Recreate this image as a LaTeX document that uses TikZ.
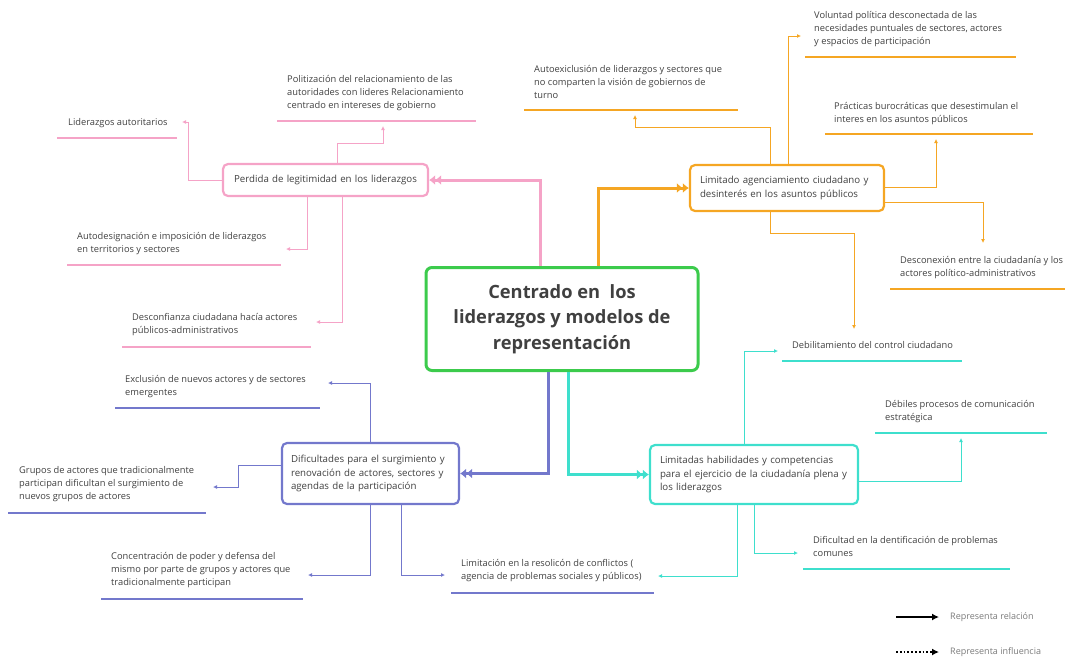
\documentclass[tikz,border=0pt]{standalone}
\usepackage{fontspec}
\setmainfont{Open Sans}
\usetikzlibrary{arrows.meta}
\definecolor{pinkc}{HTML}{F5A3C7}
\definecolor{orangec}{HTML}{F5A623}
\definecolor{tealc}{HTML}{3EDFCD}
\definecolor{purplec}{HTML}{7378CC}
\definecolor{greenc}{HTML}{3CCB4C}
\definecolor{txt}{HTML}{404040}
\definecolor{legtxt}{HTML}{7A7A7A}
\tikzset{
  leaf/.style={anchor=north west, inner sep=0pt, align=left, text=txt, font=\fontsize{9.3}{13.3}\selectfont},
  subbox/.style={draw, rounded corners=5pt, line width=2.2pt, align=left, text=txt, font=\fontsize{9.7}{13.9}\selectfont, inner sep=0pt},
  uline/.style={line width=2pt},
  thin/.style={line width=1pt, -{Latex[length=4pt,width=4pt]}},
  thick/.style={line width=3pt, -{Latex[length=6pt,width=10pt]Latex[length=6pt,width=10pt]}},
}
\begin{document}
\begin{tikzpicture}[x=1pt,y=-1pt]
\path[use as bounding box] (0,0) rectangle (1067,657);

% centre
\node[draw=greenc, line width=3pt, rounded corners=6pt, minimum width=272pt, minimum height=103pt,
      align=center, text=txt, font=\fontsize{18.3}{25.5}\selectfont\bfseries] (cn) at (562,319)
  {Centrado en\ \ los\\liderazgos y modelos de\\representación};

% sub boxes
\node[subbox, draw=pinkc, minimum width=205pt, minimum height=32pt, text width=185pt, align=center] (pb) at (325.5,180) {Perdida de legitimidad en los liderazgos};
\node[subbox, draw=orangec, minimum width=194pt, minimum height=46pt, text width=174pt] (ob) at (787,188) {Limitado agenciamiento ciudadano y\\desinterés en los asuntos públicos};
\node[subbox, draw=tealc, minimum width=208pt, minimum height=59pt, text width=188pt] (tb) at (754,474.5) {Limitadas habilidades y competencias\\para el ejercicio de la ciudadanía plena y\\los liderazgos};
\node[subbox, draw=purplec, minimum width=177pt, minimum height=61pt, text width=159pt] (vb) at (370.5,473.5) {Dificultades para el surgimiento y\\renovación de actores, sectores y\\agendas de la participación};

% thick connectors
\draw[thick, pinkc] ([xshift=-22pt]cn.north) |- (pb.east);
\draw[thick, orangec] ([xshift=36pt]cn.north) |- (ob.west);
\draw[thick, purplec] ([xshift=-14pt]cn.south) |- (vb.east);
\draw[thick, tealc] ([xshift=6pt]cn.south) |- (tb.west);

% pink leaves
\node[leaf] (aut) at (68,118) {Liderazgos autoritarios};
\draw[uline, pinkc] (57,138) -- (177,138);
\node[leaf] (pol) at (287,75) {Politización del relacionamiento de las\\autoridades con lideres Relacionamiento\\centrado en intereses de gobierno};
\draw[uline, pinkc] (277,121) -- (476,121);
\node[leaf] (autod) at (77,232) {Autodesignación e imposición de liderazgos\\en territorios y sectores};
\draw[uline, pinkc] (67,265) -- (281,265);
\node[leaf] (desc) at (132,313) {Desconfianza ciudadana hacía actores\\públicos-administrativos};
\draw[uline, pinkc] (122,347) -- (311,347);

\coordinate (tAut) at (182,122);
\coordinate (tPol) at (383,126);
\coordinate (tAutod) at (286,249);
\coordinate (tDesc) at (316,322);
\draw[thin, pinkc] (pb.west) -| (188,122) -- (tAut);
\draw[thin, pinkc] ([xshift=11.5pt]pb.north) |- (383,143) -- (tPol);
\draw[thin, pinkc] ([xshift=-18.5pt]pb.south) |- (tAutod);
\draw[thin, pinkc] ([xshift=16.5pt]pb.south) |- (tDesc);

% orange leaves
\node[leaf] (autoex) at (534,65) {Autoexiclusión de liderazgos y sectores que\\no comparten la visión de gobiernos de\\turno};
\draw[uline, orangec] (524,110) -- (738,110);
\node[leaf] (vol) at (814,11) {Voluntad política desconectada de las\\necesidades puntuales de sectores, actores\\y espacios de participación};
\draw[uline, orangec] (805,57) -- (1016,57);
\node[leaf] (prac) at (834,102) {Prácticas burocráticas que desestimulan el\\interes en los asuntos públicos};
\draw[uline, orangec] (825,134) -- (1033,134);
\node[leaf] (descx) at (900,256) {Desconexión entre la ciudadanía y los\\actores político-administrativos};
\draw[uline, orangec] (890,289) -- (1065,289);

\coordinate (tAutoex) at (635,115);
\coordinate (tVol) at (801,36);
\coordinate (tPrac) at (936,139);
\coordinate (tDescx) at (983,243);
\coordinate (tDebO) at (854,329);
\draw[thin, orangec] ([xshift=-17pt]ob.north) |- (635,127) -- (tAutoex);
\draw[thin, orangec] ([xshift=1pt]ob.north) |- (tVol);
\draw[thin, orangec] ([yshift=1pt]ob.east) -| (tPrac);
\draw[thin, orangec] ([yshift=-14pt]ob.east) -| (tDescx);
\draw[thin, orangec] ([xshift=-17pt]ob.south) |- (854,233) -- (tDebO);

% teal leaves
\node[leaf] (debil) at (792,341) {Debilitamiento del control ciudadano};
\draw[uline, tealc] (782,361) -- (962,361);
\node[leaf] (debiles) at (885,400) {Débiles procesos de comunicación\\estratégica};
\draw[uline, tealc] (875,433) -- (1047,433);
\node[leaf] (dific) at (813,536) {Dificultad en la dentificación de problemas\\comunes};
\draw[uline, tealc] (803,569) -- (1010,569);
\node[leaf] (limit) at (461,559) {Limitación en la resolicón de conflictos (\\agencia de problemas sociales y públicos)};
\draw[uline, purplec] (451,593) -- (654,593);

\coordinate (tDebil) at (778,351);
\coordinate (tDebiles) at (961,438);
\coordinate (tDific) at (798,553);
\coordinate (tLimT) at (658,576);
\draw[thin, tealc] ([xshift=-10pt]tb.north) |- (tDebil);
\draw[thin, tealc] ([yshift=-6.5pt]tb.east) -| (tDebiles);
\draw[thin, tealc] (tb.south) |- (tDific);
\draw[thin, tealc] ([xshift=-17pt]tb.south) |- (tLimT);

% purple leaves
\node[leaf] (excl) at (125,375) {Exclusión de nuevos actores y de sectores\\emergentes};
\draw[uline, purplec] (115,408) -- (320,408);
\node[leaf] (grup) at (19,466) {Grupos de actores que tradicionalmente\\participan dificultan el surgimiento de\\nuevos grupos de actores};
\draw[uline, purplec] (8,513) -- (206,513);
\node[leaf] (conc) at (111,552) {Concentración de poder y defensa del\\mismo por parte de grupos y actores que\\tradicionalmente participan};
\draw[uline, purplec] (101,599) -- (303,599);

\coordinate (tExcl) at (328,383);
\coordinate (tGrup) at (213,487);
\coordinate (tConc) at (308,575);
\coordinate (tLimP) at (445,575);
\draw[thin, purplec] (vb.north) |- (tExcl);
\draw[thin, purplec] ([yshift=8.5pt]vb.west) -| (238,487) -- (tGrup);
\draw[thin, purplec] (vb.south) |- (tConc);
\draw[thin, purplec] ([xshift=31pt]vb.south) |- (tLimP);

% legend
\node[anchor=west, inner sep=0pt, text=legtxt, font=\fontsize{9}{11}\selectfont] (lg1) at (950,617) {Representa relación};
\node[anchor=west, inner sep=0pt, text=legtxt, font=\fontsize{9}{11}\selectfont] (lg2) at (950,652) {Representa influencia};
\coordinate (l1) at (896,617);
\coordinate (l2) at (896,652);
\draw[line width=1.8pt, -{Latex[length=7pt,width=7pt]}] (l1) -- ([xshift=-11pt]lg1.west);
\draw[line width=1.8pt, dotted, -{Latex[length=7pt,width=7pt]}] (l2) -- ([xshift=-11pt]lg2.west);
\end{tikzpicture}
\end{document}
